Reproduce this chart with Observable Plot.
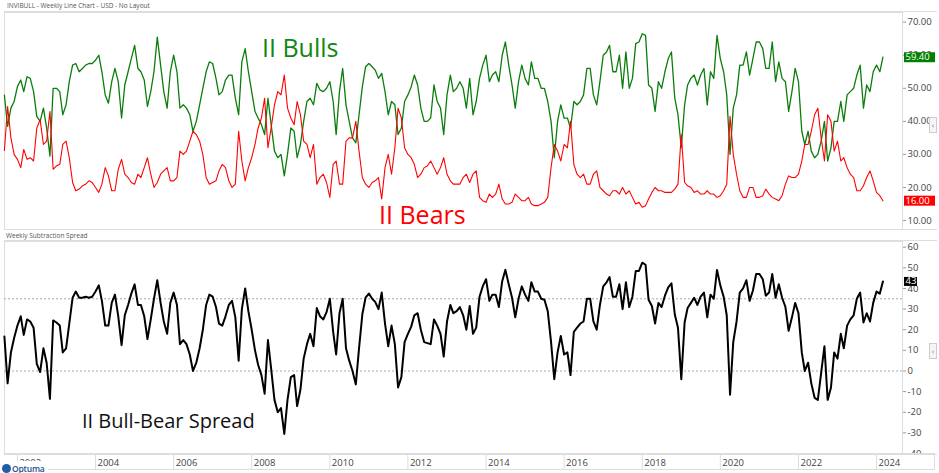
<!DOCTYPE html>
<html><head><meta charset="utf-8">
<script src="https://cdn.jsdelivr.net/npm/d3@7"></script>
<script src="https://cdn.jsdelivr.net/npm/@observablehq/plot@0.6"></script>
<style>
body{margin:0;background:#fff;}
#wrap{position:relative;width:939px;height:473px;overflow:hidden;background:#fff;font-family:"Open Sans",sans-serif;}
.ptitle{font-size:6.5px;color:#555;white-space:nowrap;}
.box{border-top:1px solid #ddd;border-bottom:1px solid #ddd;border-left:1px solid #ddd;}
.big{font-family:"Open Sans",sans-serif;white-space:nowrap;line-height:1;}
.btn{width:6px;height:14px;border:1px solid #ccc;background:#f5f5f5;color:#777;font-size:8px;line-height:14px;text-align:center;}
</style></head><body><div id="wrap"></div>
<script>
// monthly readings starting September 2001
const firstMonth = "2001-09-01";
const bulls = [
  47.9, 38.5, 44, 46,
  50.5, 52.5, 49, 53.5, 53, 49, 41.5, 40, 44, 38, 29.5, 50,
  50, 49, 42, 45, 52, 57, 57.5, 55, 56, 57, 57.5, 57.5,
  58.5, 60, 55, 48, 45.5, 52, 56, 52, 41, 51, 55, 59,
  63, 56, 55, 52.5, 44.5, 49, 55, 65.5, 57, 49, 44, 55,
  60, 55, 44, 45, 44, 42, 37, 40, 45, 50, 55, 58,
  57.5, 53, 48, 49, 52.5, 54, 54, 47, 42, 58, 62, 55,
  49, 43, 41, 39, 36, 47, 39, 31, 29, 30, 23.5, 30,
  38, 37, 29, 33, 40, 46, 47, 45, 51.5, 49.5, 49, 50,
  52, 46, 36, 49, 56, 45, 40, 35, 33.5, 42, 50.5, 56.5,
  57.5, 56.5, 55.5, 53, 54.5, 49, 42, 46, 45, 36, 38, 46,
  48, 50.5, 54, 51, 44, 40, 40, 41, 51, 46, 44, 36,
  48, 54, 49, 50, 52, 50, 44, 53, 42, 46, 53, 57,
  60, 52, 54, 55, 52, 60, 64, 57, 51, 44, 52, 57,
  53, 51, 58, 53, 53, 50, 50, 46, 40, 29, 40, 45,
  41, 41, 38, 46, 45, 46, 48, 56, 56, 48, 45, 52,
  60, 61, 63, 55, 55, 60, 50, 61, 50, 53, 63.5, 64,
  66.5, 66, 51, 50, 43, 52, 50, 55, 59, 61, 47, 42,
  32, 45, 51, 53, 54, 51, 54, 56, 45, 55, 53, 66,
  59, 55, 48, 30, 44, 48, 57, 57, 61, 54, 59, 64,
  64, 62, 56, 56, 64, 52, 58, 53, 52, 43, 49, 56,
  52, 37, 33, 37, 31, 29, 30, 34, 40, 28, 32, 40,
  40, 46, 40, 48, 49, 50, 54, 57, 44, 51, 49, 55,
  57, 55, 59.4
];
const bears = [
  31.2, 44.5, 35, 30,
  28.5, 26, 31.5, 28.5, 29, 28, 38, 40.5, 33, 34, 43, 25.5,
  26.5, 27, 33, 34, 29, 21.5, 19, 19.5, 20.5, 21, 22, 21.5,
  20, 18.5, 21, 26, 23.5, 19, 19, 25.5, 28.5, 24, 23, 21.5,
  21, 24, 23, 26, 29, 24, 20, 21.5, 24, 25, 26, 22,
  22, 23, 31, 30, 31, 34, 37, 36, 34, 30, 23, 21,
  21.5, 22, 25, 27, 26, 22, 20, 21, 37, 28, 22, 26,
  29, 33, 38, 41, 47, 32, 38, 45, 49, 48, 54, 44,
  41, 39, 46, 42, 34, 33, 29, 33, 21, 23, 24, 21.5,
  17, 27, 28, 21, 21, 34, 35, 35, 40, 31, 23, 21,
  20, 21.5, 22, 23, 16.5, 26, 30, 24, 32, 44, 41, 32,
  30, 29, 27, 23, 24, 26, 26.5, 28, 26, 24, 26, 29,
  24, 22, 21, 21, 21, 23, 24, 21.5, 24, 25, 17, 16,
  15.5, 18, 17, 18, 21, 16.5, 15, 15, 15.5, 18, 17, 16,
  16, 17, 15, 14.5, 14.5, 15, 15.5, 17, 26, 33, 31, 28,
  33, 32, 40, 27, 24, 23, 24, 21, 21, 24, 25, 20,
  19, 18, 17.5, 19, 19, 18, 20, 18, 19, 17, 15, 15.5,
  14, 14.5, 16.5, 18.5, 20, 19, 19, 18.5, 18.5, 18.5, 19.5, 21,
  36, 21.5, 20.5, 20, 18.5, 19, 18, 18, 19, 18, 18, 17,
  17.5, 19, 21, 41.5, 30, 24, 19, 17, 17, 20, 20, 17,
  17, 17.5, 19.5, 18, 17, 16.5, 16, 17.5, 21, 23.5, 23, 23,
  24, 28, 33, 33, 37, 42, 44, 35, 28, 42, 40, 31,
  34, 28, 29, 26, 24, 23, 19, 19, 20.5, 23, 25, 22,
  18.5, 17.5, 16.0
];
const topTicks = [10, 20, 30, 40, 50, 60, 70];
const spreadTicks = [-40, -30, -20, -10, 0, 10, 20, 30, 40, 50, 60];
const spreadLevels = [35, 0];
const yearLabels = [2002, 2004, 2006, 2008, 2010, 2012, 2014, 2016, 2018, 2020, 2022, 2024];

const GREEN = "#0b7d0b", RED = "#ff0000";
const start = new Date(firstMonth + "T00:00:00Z");
const rows = bulls.map((b, i) => ({
  date: d3.utcMonth.offset(start, i),
  bulls: b,
  bears: bears[i],
  spread: Math.round((b - bears[i]) * 100) / 100
}));
const last = rows[rows.length - 1];
const xDomain = [new Date("2001-09-02T00:00:00Z"), new Date("2024-08-31T00:00:00Z")];
const W = 939, ML = 4, MR = 37;
const axisStyle = {fontFamily: "Open Sans", fontSize: "9.5px", color: "#444", background: "transparent"};

const wrap = document.getElementById("wrap");
function place(el, left, top) { el.style.position = "absolute"; el.style.left = left + "px"; el.style.top = top + "px"; wrap.appendChild(el); return el; }
function div(cls, html, left, top, css) { const d = document.createElement("div"); d.className = cls; d.innerHTML = html; if (css) Object.assign(d.style, css); return place(d, left, top); }

// panel boxes
div("box", "", 4, 11, {width: "932px", height: "217px"});
div("box", "", 4, 240, {width: "932px", height: "213px"});

// top panel
const topPlot = Plot.plot({
  width: W, height: 217, marginLeft: ML, marginRight: MR, marginTop: 0, marginBottom: 0,
  x: {type: "utc", domain: xDomain, axis: null},
  y: {domain: [7.28, 72.93], axis: null},
  style: axisStyle,
  marks: [
    Plot.frame({stroke: "#ddd"}),
    Plot.axisY(topTicks, {anchor: "right", label: null, tickSize: 3, tickPadding: 2, stroke: "#999", fill: "#444", tickFormat: d => d.toFixed(2)}),
    Plot.line(rows, {x: "date", y: "bulls", stroke: GREEN, strokeWidth: 1.3}),
    Plot.line(rows, {x: "date", y: "bears", stroke: RED, strokeWidth: 1.1}),
    Plot.ruleY([last.bulls], {stroke: "#008000", strokeWidth: 10, insetLeft: 900, insetRight: -33}),
    Plot.text([last.bulls], {y: d => d, text: d => d.toFixed(2), frameAnchor: "right", textAnchor: "start", dx: 3, fill: "white"}),
    Plot.ruleY([last.bears], {stroke: "#ff0000", strokeWidth: 10, insetLeft: 900, insetRight: -33}),
    Plot.text([last.bears], {y: d => d, text: d => d.toFixed(2), frameAnchor: "right", textAnchor: "start", dx: 3, fill: "white"})
  ]
});
place(topPlot, 0, 12);

// spread panel
const botPlot = Plot.plot({
  width: W, height: 213, marginLeft: ML, marginRight: MR, marginTop: 0, marginBottom: 0,
  x: {type: "utc", domain: xDomain, axis: null},
  y: {domain: [-40.48, 62.76], axis: null},
  style: axisStyle,
  marks: [
    Plot.frame({stroke: "#ddd"}),
    Plot.ruleY(spreadLevels, {stroke: "#aaa", strokeDasharray: "2,2"}),
    Plot.axisY(spreadTicks, {anchor: "right", label: null, tickSize: 3, tickPadding: 2, stroke: "#999", fill: "#444", tickFormat: d => String(d)}),
    Plot.line(rows, {x: "date", y: "spread", stroke: "#000", strokeWidth: 2}),
    Plot.ruleY([last.spread], {stroke: "#000", strokeWidth: 9, insetLeft: 900, insetRight: -15}),
    Plot.text([last.spread], {y: d => d, text: d => String(Math.round(d)), frameAnchor: "right", textAnchor: "start", dx: 3, fill: "white"})
  ]
});
place(botPlot, 0, 241);

// x axis strip
div("", "", 4, 453, {width: "930px", height: "15px", borderTop: "1px solid #ddd", borderBottom: "1px solid #ddd", borderRight: "1px solid #ddd"});
const years = yearLabels.map(y => new Date(Date.UTC(y, 0, 1)));
const xPlot = Plot.plot({
  width: W, height: 16, marginLeft: ML, marginRight: MR, marginTop: 0, marginBottom: 0,
  x: {type: "utc", domain: xDomain, axis: null},
  y: {axis: null},
  style: {...axisStyle, overflow: "visible"},
  marks: [
    Plot.ruleX(years, {x: d => d, stroke: "#ddd"}),
    Plot.text(years, {x: d => d, text: d => String(d.getUTCFullYear()), textAnchor: "start", dx: 2, fill: "#444"})
  ]
});
place(xPlot, 0, 454);

// titles
div("ptitle", "INVIBULL - Weekly Line Chart - USD - No Layout", 7, 1);
div("ptitle", "Weekly Subtraction Spread", 6, 231);

// big labels
div("big", "II Bulls", 262, 35, {fontSize: "25px", color: "#128612"});
div("big", "II Bears", 379, 202, {fontSize: "25px", color: "#ff0000"});
div("big", "II Bull-Bear Spread", 82, 411, {fontSize: "20px", color: "#111"});

// collapse buttons
div("btn", "&#8249;", 929, 117);
div("btn", "&#8249;", 929, 343);

// logo
div("", '<span style="display:inline-block;width:9px;height:9px;border-radius:50%;background:#1f5fa8;vertical-align:-1px;margin-right:1px"></span><span style="font-size:8.5px;font-weight:600;color:#23508e;letter-spacing:-0.2px">Optuma</span>', 0, 461, {background: "#fff", width: "46px", height: "12px", lineHeight: "11px", paddingLeft: "2px", whiteSpace: "nowrap"});
</script></body></html>
